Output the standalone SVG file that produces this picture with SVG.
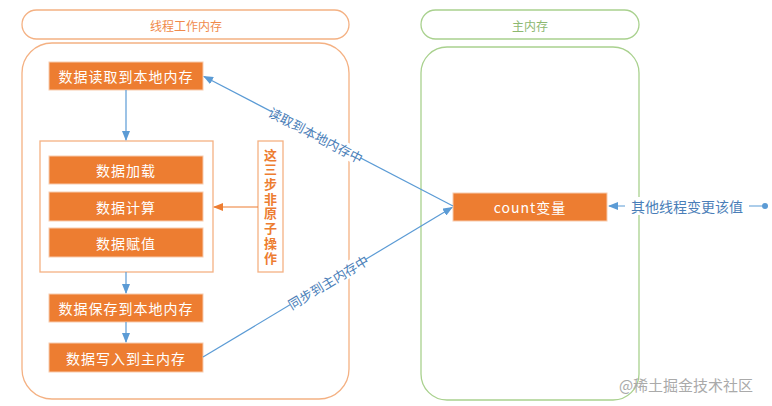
<svg xmlns="http://www.w3.org/2000/svg" width="772" height="406" viewBox="0 0 772 406">
<defs>
<style>
.cap-o{fill:#fff;stroke:#F4B183;stroke-width:1.3}
.cap-g{fill:#fff;stroke:#A9D18E;stroke-width:1.3}
.box{fill:#ED7D31;stroke:#F8CBAD;stroke-width:1}
.btxt{font-family:"Noto Sans CJK SC","Liberation Sans",sans-serif;font-size:14px;fill:#fff;text-anchor:middle;dominant-baseline:central;letter-spacing:1px}
.ctxt-o{font-family:"Noto Sans CJK SC",sans-serif;font-size:12px;fill:#F08A4B;text-anchor:middle;dominant-baseline:central}
.ctxt-g{font-family:"Noto Sans CJK SC",sans-serif;font-size:12px;fill:#8DB870;text-anchor:middle;dominant-baseline:central}
.vtxt{font-family:"Noto Sans CJK SC",sans-serif;font-size:13px;font-weight:bold;fill:#ED7D31;text-anchor:middle;writing-mode:vertical-rl;letter-spacing:1.7px}
.ltxt{font-family:"Noto Sans CJK SC",sans-serif;font-size:13px;fill:#4A7EB8;text-anchor:middle;dominant-baseline:central}
.blue{stroke:#5B9BD5;stroke-width:1.2;fill:none}
.oline{stroke:#ED7D31;stroke-width:1.2;fill:none}
</style>
<marker id="ab" markerWidth="10" markerHeight="8" refX="9" refY="4" orient="auto" markerUnits="userSpaceOnUse"><path d="M0,0 L10,4 L0,8 Z" fill="#5B9BD5"/></marker>
<marker id="ao" markerWidth="10" markerHeight="8" refX="9" refY="4" orient="auto" markerUnits="userSpaceOnUse"><path d="M0,0 L10,4 L0,8 Z" fill="#ED7D31"/></marker>
</defs>
<rect width="772" height="406" fill="#fff"/>

<g id="thread-title"><rect class="cap-o" x="22" y="10" width="327" height="29" rx="14.5"/><text class="ctxt-o" x="186" y="25">线程工作内存</text></g>
<g id="thread-area"><rect class="cap-o" x="22" y="43" width="327" height="356" rx="30"/></g>
<g id="main-title"><rect class="cap-g" x="421" y="10" width="218" height="29" rx="14.5"/><text class="ctxt-g" x="530" y="25">主内存</text></g>
<g id="main-area"><rect class="cap-g" x="421" y="47" width="218" height="353" rx="26"/></g>

<g id="n-read"><rect class="box" x="49" y="62" width="154" height="28"/><text class="btxt" x="126" y="76">数据读取到本地内存</text></g>
<g id="n-group"><rect fill="#fff" stroke="#F4B183" stroke-width="1.3" x="40" y="141" width="173" height="131"/></g>
<g id="n-load"><rect class="box" x="49" y="156" width="154" height="28"/><text class="btxt" x="126" y="170">数据加载</text></g>
<g id="n-calc"><rect class="box" x="49" y="192" width="154" height="29"/><text class="btxt" x="126" y="206.5">数据计算</text></g>
<g id="n-assign"><rect class="box" x="49" y="228" width="154" height="29"/><text class="btxt" x="126" y="242.5">数据赋值</text></g>
<g id="n-note"><rect fill="#fff" stroke="#F4B183" stroke-width="1.3" x="258" y="141" width="25" height="131"/>
<text class="vtxt" x="270.5" y="207">这三步非原子操作</text></g>
<g id="n-save"><rect class="box" x="49" y="294" width="154" height="28"/><text class="btxt" x="126" y="308">数据保存到本地内存</text></g>
<g id="n-write"><rect class="box" x="49" y="343" width="154" height="29"/><text class="btxt" x="126" y="357.5">数据写入到主内存</text></g>
<g id="n-count"><rect class="box" x="453" y="193" width="154" height="28"/><text class="btxt" x="530" y="207">count变量</text></g>

<g id="connectors">
<line class="blue" x1="126" y1="90" x2="126" y2="140" marker-end="url(#ab)"/>
<line class="blue" x1="126" y1="272" x2="126" y2="293" marker-end="url(#ab)"/>
<line class="blue" x1="126" y1="322" x2="126" y2="342" marker-end="url(#ab)"/>
<line class="oline" x1="258" y1="207" x2="214" y2="207" marker-end="url(#ao)"/>
<line class="blue" x1="453" y1="206" x2="204" y2="76.5" marker-end="url(#ab)"/>
<line class="blue" x1="203" y1="357" x2="452" y2="207.5" marker-end="url(#ab)"/>
<line class="blue" x1="765" y1="206" x2="609" y2="206" marker-end="url(#ab)"/>
<circle cx="765" cy="206" r="3" fill="#5B9BD5"/>
<g transform="translate(316,135) rotate(27.5)"><rect x="-50" y="-8" width="100" height="16" fill="#fff"/><text class="ltxt" x="0" y="0">读取到本地内存中</text></g>
<g transform="translate(328,282) rotate(-31)"><rect x="-44" y="-8" width="88" height="16" fill="#fff"/><text class="ltxt" x="0" y="0">同步到主内存中</text></g>
<rect x="625" y="197" width="124" height="18" fill="#fff"/>
<text class="ltxt" x="687" y="206" style="font-size:14px">其他线程变更该值</text>
</g>
<text x="686" y="384" font-family="Noto Sans CJK SC,sans-serif" font-size="15" fill="#aaa" text-anchor="middle" dominant-baseline="central">@稀土掘金技术社区</text>
</svg>
